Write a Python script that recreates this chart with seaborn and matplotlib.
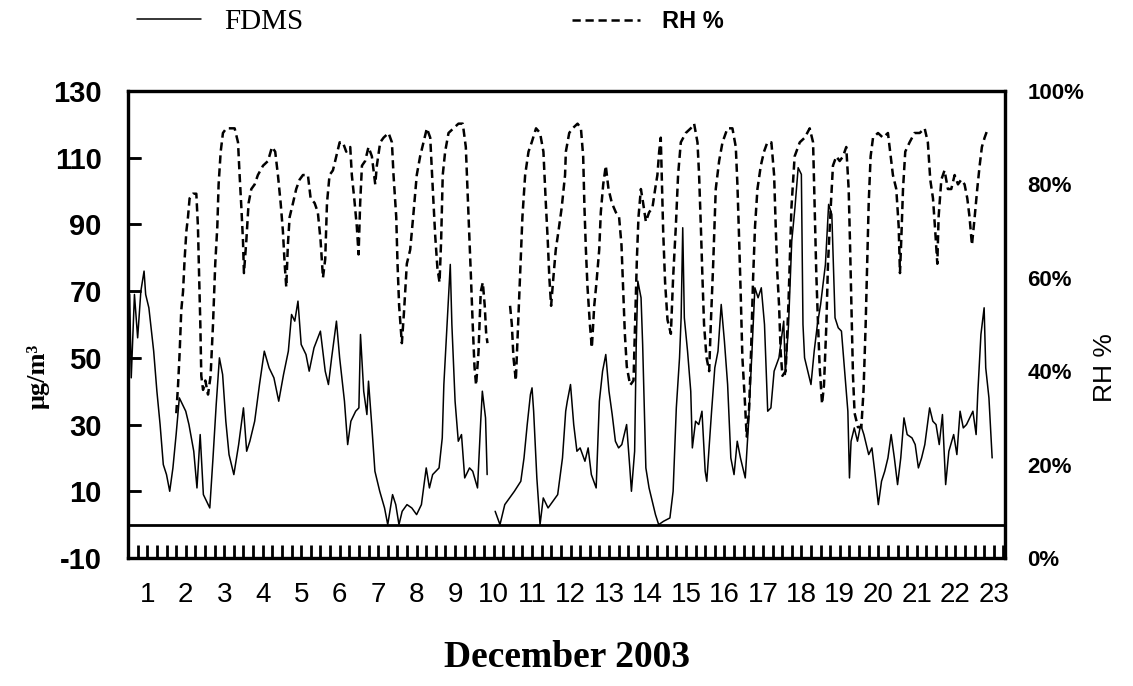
import numpy as np
import pandas as pd
import matplotlib
matplotlib.use("Agg")
import matplotlib.pyplot as plt
import seaborn as sns
from matplotlib.lines import Line2D
from matplotlib.ticker import MultipleLocator, FixedLocator

# ---------------- data (hours since 1 Dec 2003 00:00) ----------------
fdms_hours = [0, 1, 2, 4, 6, 8, 10, 11, 13, 16, 18, 20, 22, 24, 26, 28, 30, 32, 34, 36,
              38, 41, 43, 45, 47, 49, 51, 53, 55, 57, 59, 61, 63, 66, 69, 72, 74, 76, 79, 82,
              85, 88, 91, 94, 97, 100, 102, 104, 106, 108, 111, 113, 116, 120, 123, 125, 127, 130, 132, 135,
              137, 139, 142, 144, 145, 147, 149, 150, 152, 154, 157, 160, 162, 165, 167, 169, 171, 174, 177, 180,
              183, 186, 188, 190, 194, 196, 197, 199, 201, 202, 204, 206, 208, 210, 213, 215, 218, 220, 221, 223,
              224, 226, 229, 232, 235, 238, 241, 245, 247, 249, 251, 252, 253, 255, 257, 259, 262, 265, 268, 271,
              273, 274, 276, 278, 280, 282, 285, 287, 289, 292, 294, 296, 298, 300, 302, 304, 306, 308, 311, 313,
              314, 316, 317, 318, 320, 321, 323, 325, 327, 329, 331, 334, 338, 340, 342, 344, 345, 346, 347, 349,
              351, 352, 354, 356, 358, 360, 361, 364, 366, 368, 370, 372, 374, 376, 378, 380, 382, 385, 387, 389,
              391, 393, 395, 397, 399, 401, 403, 406, 409, 410, 412, 414, 416, 418, 420, 421, 422, 424, 426, 428,
              430, 432, 435, 437, 439, 441, 443, 445, 447, 449, 450, 451, 453, 455, 457, 459, 462, 464, 466, 468,
              470, 472, 474, 476, 478, 480, 482, 484, 486, 489, 491, 493, 495, 497, 500, 502, 504, 506, 508, 510,
              512, 515, 517, 519, 521, 523, 525, 527, 529, 530, 532, 534, 535, 537, 538, 539]
fdms_vals = [60, 69, 44, 69, 56, 70, 76, 69, 65, 52, 40, 30, 18, 15, 10, 17, 27, 38, 36, 34,
             30, 22, 11, 27, 9, 7, 5, 20, 36, 50, 45, 31, 21, 15, 24, 35, 22, 25, 31, 42,
             52, 47, 44, 37, 45, 52, 63, 61, 67, 54, 51, 46, 53, 58, 46, 42, 50, 61, 50, 37,
             24, 31, 34, 35, 57, 40, 33, 43, 30, 16, 10, 5, 0, 9, 6, 0, 4, 6, 5, 3,
             6, 17, 11, 15, 17, 26, 42, 60, 78, 60, 37, 25, 27, 14, 17, 16, 11, 31, 40, 32,
             15, np.nan, 4, 0, 6, 8, 10, 13, 20, 30, 39, 41, 34, 14, 0, 8, 5, 7, 9, 20,
             34, 37, 42, 30, 22, 23, 19, 23, 15, 11, 37, 46, 51, 40, 33, 25, 23, 24, 30, 17,
             10, 22, 54, 73, 68, 54, 17, 11, 7, 3, 0, 1, 2, 10, 35, 50, 62, 89, 62, 52,
             40, 23, 31, 30, 34, 16, 13, 34, 47, 52, 66, 55, 42, 20, 15, 25, 20, 14, 30, 50,
             71, 68, 71, 60, 34, 35, 46, 50, 61, 45, 60, 85, 95, 107, 105, 60, 50, 46, 42, 52,
             60, 66, 78, 96, 93, 62, 59, 58, 46, 34, 14, 25, 29, 25, 30, 27, 21, 23, 15, 6,
             13, 16, 20, 27, 20, 12, 20, 32, 27, 26, 24, 17, 20, 24, 35, 31, 30, 24, 33, 12,
             22, 27, 21, 34, 29, 30, 32, 34, 27, 39, 57, 65, 47, 38, 29, 20]

rh_hours = [30.1, 31.2, 32.2, 33.2, 34.3, 35.3, 36.4, 37.4, 38.4, 40.5, 42.6, 43.6, 44.3, 45.1, 45.7, 46.8,
            48.2, 49.9, 51.5, 53.0, 54.4, 55.7, 56.5, 57.8, 59.2, 61.3, 64.4, 66.5, 68.6, 69.6, 70.7, 71.7,
            72.3, 73.8, 75.2, 76.9, 79.0, 81.0, 84.2, 87.3, 89.8, 91.8, 93.5, 95.2, 96.6, 97.7, 98.7, 99.7,
            100.8, 102.9, 104.9, 107.0, 109.1, 112.2, 113.9, 116.4, 118.4, 120.1, 121.6, 123.0, 124.1, 125.7,
            127.8, 129.9, 132.0, 134.0, 136.1, 138.6, 139.6, 141.1, 142.7, 143.8, 144.8, 145.9, 147.9, 150.0,
            152.1, 154.2, 155.2, 157.3, 159.4, 162.5, 164.6, 165.6, 167.3, 168.1, 169.1, 170.8, 172.2, 173.9,
            176.0, 178.1, 180.1, 182.2, 184.3, 186.4, 188.5, 190.1, 191.6, 193.0, 194.3, 195.3, 196.3, 197.8,
            199.9, 203.0, 206.1, 208.8, 210.7, 212.3, 213.8, 215.0, 216.1, 217.1, 218.6, 220.0, 221.3, 222.5,
            223.4, 224.2, 226.0, 238.3, 239.4, 240.4, 241.9, 243.1, 244.6, 246.0, 247.7, 249.8, 251.8, 254.5,
            257.0, 259.1, 260.6, 261.8, 262.8, 263.9, 265.3, 266.8, 268.5, 270.5, 272.6, 273.1, 275.2, 277.3,
            280.4, 282.5, 283.9, 284.7, 285.6, 286.6, 288.1, 289.3, 290.8, 292.2, 293.9, 294.9, 296.4, 298.0,
            299.7, 301.8, 304.3, 306.3, 307.8, 308.8, 309.9, 311.1, 313.2, 315.3, 316.3, 317.4, 318.4, 319.9,
            321.3, 323.0, 325.0, 327.1, 328.8, 330.2, 331.3, 332.3, 333.8, 335.0, 336.5, 338.6, 340.0, 341.7,
            343.1, 344.8, 347.9, 351.0, 353.1, 355.2, 356.2, 357.3, 358.3, 359.3, 360.8, 362.5, 363.5, 365.0,
            366.6, 368.7, 370.8, 373.9, 377.0, 379.1, 380.1, 381.2, 382.2, 383.2, 384.7, 385.9, 387.4, 388.6,
            389.9, 391.1, 392.6, 394.7, 396.7, 398.8, 401.3, 403.0, 404.0, 405.0, 406.1, 407.1, 408.2, 410.2,
            412.0, 413.8, 415.8, 419.0, 422.1, 425.2, 427.3, 428.3, 429.3, 430.4, 431.4, 432.9, 434.1, 435.6,
            436.6, 438.3, 439.7, 441.8, 443.9, 446.0, 448.0, 449.5, 450.3, 451.2, 452.2, 453.2, 455.3, 457.4,
            458.8, 460.1, 461.1, 462.0, 463.2, 464.7, 467.8, 470.9, 474.0, 475.7, 477.1, 479.2, 480.7, 481.5,
            482.3, 483.4, 484.8, 487.5, 490.6, 493.8, 496.9, 498.9, 500.4, 502.1, 503.5, 504.8, 505.6, 507.3,
            509.3, 511.4, 513.5, 515.6, 517.7, 519.7, 521.8, 523.5, 524.9, 526.4, 528.1, 529.7, 531.2, 532.6,
            534.3, 536.4]
rh_vals = [31, 37, 44, 53, 57, 64, 70, 73, 77, 78, 78, 71, 61, 50, 39, 36,
           38, 35, 39, 50, 63, 71, 80, 87, 91, 92, 92, 92, 89, 82, 75, 68,
           61, 68, 76, 79, 80, 82, 84, 85, 88, 87, 82, 76, 70, 63, 58, 67,
           73, 76, 79, 81, 82, 82, 77, 76, 74, 68, 60, 64, 76, 82,
           83, 86, 89, 89, 87, 88, 82, 77, 71, 65, 76, 84, 85, 88,
           86, 80, 84, 89, 90, 91, 89, 82, 73, 63, 54, 46, 53, 63,
           66, 74, 82, 86, 89, 92, 90, 79, 69, 62, 59, 68, 82, 87,
           91, 92, 93, 93, 88, 74, 61, 50, 41, 37, 44, 57, 59, 54,
           48, 46, np.nan, 54, 50, 43, 38, 48, 61, 73, 82, 87, 89, 92,
           91, 87, 76, 68, 60, 54, 60, 66, 70, 75, 82, 87, 91, 92,
           93, 92, 86, 75, 66, 58, 50, 45, 54, 59, 66, 74, 80, 84,
           79, 76, 74, 73, 67, 58, 48, 41, 37, 38, 50, 64, 73, 79,
           76, 72, 74, 75, 79, 82, 87, 90, 70, 59, 51, 48, 60, 71,
           82, 89, 91, 92, 93, 89, 82, 71, 60, 50, 43, 40, 50, 63,
           79, 85, 89, 92, 92, 88, 80, 68, 56, 43, 34, 26, 32, 44,
           60, 71, 79, 84, 87, 89, 89, 82, 71, 61, 54, 44, 39, 40,
           55, 75, 86, 89, 90, 92, 89, 75, 61, 50, 41, 33, 37, 50,
           63, 75, 84, 86, 85, 86, 88, 79, 68, 54, 39, 31, 28, 28,
           36, 50, 64, 76, 86, 90, 91, 90, 91, 86, 82, 79, 71, 61,
           68, 79, 87, 89, 91, 91, 92, 89, 81, 77, 70, 63, 73, 81,
           83, 79, 79, 82, 80, 81, 80, 77, 73, 67, 73, 79, 84, 88,
           90, 92]

day_labels = [str(d) for d in range(1, 24)]
left_ticks = [-10, 10, 30, 50, 70, 90, 110, 130]
right_ticks = [0, 20, 40, 60, 80, 100]


def to_frame(hours, vals):
    df = pd.DataFrame({"hour": hours, "val": vals})
    df["seg"] = df["val"].isna().cumsum()
    return df.dropna()


fdms_df = to_frame(fdms_hours, fdms_vals)
rh_df = to_frame(rh_hours, rh_vals)

# ---------------- figure ----------------
sns.set_theme(style="white")
plt.rcParams["font.family"] = ["Liberation Sans", "DejaVu Sans"]
plt.rcParams.update({
    "text.color": "black", "axes.labelcolor": "black",
    "xtick.color": "black", "ytick.color": "black",
    "xtick.bottom": True, "ytick.left": True,
    "axes.edgecolor": "black",
})
SERIF = ["Liberation Serif", "DejaVu Serif"]

fig = plt.figure(figsize=(11.33, 6.86), dpi=100)
ax = fig.add_axes([0.1130, 0.1866, 0.7740, 0.6808])
ax2 = ax.twinx()

sns.lineplot(data=fdms_df, x="hour", y="val", units="seg", estimator=None,
             color="black", lw=1.1, ax=ax, legend=False)
sns.lineplot(data=rh_df, x="hour", y="val", units="seg", estimator=None,
             color="black", lw=1.8, linestyle=(0, (3.3, 1.9)), ax=ax2, legend=False)

ax.axhline(0, color="black", lw=2.0, zorder=3)

ax.set_xlim(0, 547)
ax.set_ylim(-10, 130)
ax2.set_ylim(0, 100)

# x ticks: labels at noon of each day, small ticks every 6 hours
ax.xaxis.set_major_locator(FixedLocator([12 + 24 * i for i in range(len(day_labels))]))
ax.set_xticklabels(day_labels)
ax.xaxis.set_minor_locator(MultipleLocator(6))
ax.tick_params(axis="x", which="both", direction="in", length=9.5, width=2.0,
               color="black", bottom=True, top=False, pad=17, labelsize=20)

# right axis: RH %
ax2.set_yticks(right_ticks)
ax2.set_yticklabels([f"{v}%" for v in right_ticks], fontweight="bold")
ax2.tick_params(axis="y", which="major", length=0, pad=16, labelsize=16)
ax2.tick_params(axis="x", which="both", length=0)

# left axis: μg/m³
ax.set_yticks(left_ticks)
ax.set_yticklabels([str(v) for v in left_ticks], fontweight="bold")
ax.tick_params(axis="y", which="major", direction="in", length=9.5, width=1.8,
               color="black", left=True, right=False, pad=19, labelsize=21)

# inward tick marks on the left frame, drawn explicitly in axes-fraction x
tick_frac = 13 / 877
for v in left_ticks[1:-1]:
    ax.plot([0, tick_frac], [v, v], transform=ax.get_yaxis_transform(),
            color="black", lw=1.8, solid_capstyle="butt", clip_on=False, zorder=6)

for a in (ax, ax2):
    a.grid(False)
    for s in a.spines.values():
        s.set_visible(True)
        s.set_color("black")
        s.set_linewidth(2.3)

ax.set_ylabel("μg/m³", family=SERIF, fontweight="bold", fontsize=19, color="black")
ax.yaxis.set_label_coords(-0.089, 0.39)
ax2.set_ylabel("RH %", fontsize=19, color="black")
ax2.yaxis.set_label_coords(1.100, 0.407)
ax.set_xlabel("December 2003", family=SERIF, fontweight="bold", fontsize=27, color="black")
ax.xaxis.set_label_coords(0.5, -0.175)

# ---------------- legend ----------------
h1 = Line2D([], [], color="black", lw=1.1)
h2 = Line2D([], [], color="black", lw=1.8, linestyle=(0, (3.3, 1.9)))
leg1 = fig.legend(handles=[h1], labels=["FDMS"], loc="center left",
                  bbox_to_anchor=(137 / 1133, 1 - 22 / 686), frameon=False,
                  borderpad=0, borderaxespad=0, handlelength=2.2, handletextpad=0.8,
                  prop={"family": SERIF, "size": 21})
leg2 = fig.legend(handles=[h2], labels=["RH %"], loc="center left",
                  bbox_to_anchor=(572 / 1133, 1 - 22 / 686), frameon=False,
                  borderpad=0, borderaxespad=0, handlelength=2.9, handletextpad=0.9,
                  prop={"family": ["Liberation Sans"], "size": 17, "weight": "bold"})
for leg in (leg1, leg2):
    for t in leg.get_texts():
        t.set_color("black")

fig.savefig("out.png", dpi=100, facecolor="white")
